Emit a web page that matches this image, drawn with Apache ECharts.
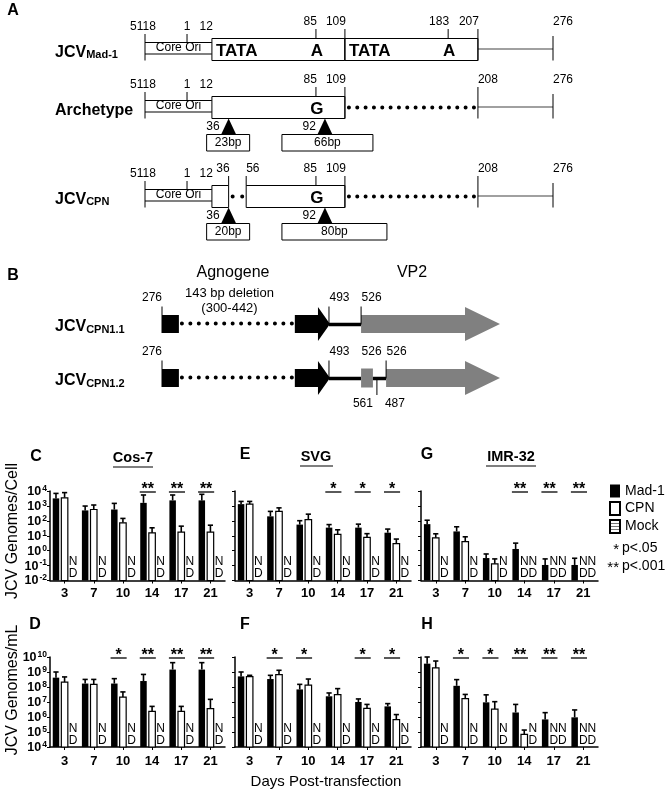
<!DOCTYPE html>
<html>
<head>
<meta charset="utf-8">
<script src="https://cdn.jsdelivr.net/npm/echarts@6.0.0/dist/echarts.min.js"></script>
<style>html,body{margin:0;padding:0;background:#fff;}#chart{width:667px;height:794px;}</style>
</head>
<body>
<div id="chart"></div>
<script>
// ---------- DATA ----------
const days = ['3', '7', '10', '14', '17', '21'];
const cellRange = [0.01, 1e4];
const mlRange = [1e4, 1e10];
const mock = [null, null, null, null, null, null]; // Mock: not detected

// C: Cos-7, genomes/cell
const cosCellMad1 = [3200, 500, 575, 1600, 2350, 2350];
const cosCellMad1Err = [6900, 980, 1480, 5400, 5400, 6000];
const cosCellCPN = [3500, 575, 74, 15.5, 17.4, 17.4];
const cosCellCPNErr = [7800, 1150, 145, 34, 44, 51];
const cosCellSig = ['', '', '', '**', '**', '**'];
// D: Cos-7, genomes/mL
const cosMlMad1 = [4.2e8, 1.7e8, 1.7e8, 2.5e8, 1.45e9, 1.45e9];
const cosMlMad1Err = [1.0e9, 3.2e8, 3.6e8, 6.9e8, 4.2e9, 4.2e9];
const cosMlCPN = [2.1e8, 1.5e8, 2.1e7, 2.4e6, 2.4e6, 3.6e6];
const cosMlCPNErr = [4.7e8, 3.2e8, 4.7e7, 5.1e6, 5.1e6, 1.5e7];
const cosMlSig = ['', '', '*', '**', '**', '**'];
// E: SVG, genomes/cell
const svgCellMad1 = [1320, 200, 56, 35, 35, 16];
const svgCellMad1Err = [2000, 430, 102, 56, 60, 28];
const svgCellCPN = [1320, 430, 120, 12.3, 7.9, 3.0];
const svgCellCPNErr = [2000, 740, 280, 25, 13.8, 6.0];
const svgCellSig = ['', '', '', '*', '*', '*'];
// F: SVG, genomes/mL
const svgMlMad1 = [5.1e8, 3.4e8, 6.9e7, 2.4e7, 1.0e7, 5.1e6];
const svgMlMad1Err = [1.0e9, 6.0e8, 1.5e8, 4.0e7, 1.6e7, 7.8e6];
const svgMlCPN = [4.9e8, 6.6e8, 1.35e8, 3.1e7, 3.8e6, 6.6e5];
const svgMlCPNErr = [6.0e8, 1.3e9, 3.4e8, 7.8e7, 6.9e6, 1.45e6];
const svgMlSig = ['', '*', '*', '', '*', '*'];
// G: IMR-32, genomes/cell
const imrCellMad1 = [60, 19.5, 0.32, 1.3, 0.11, 0.11];
const imrCellMad1Err = [110, 40, 0.6, 3.2, 0.28, 0.31];
const imrCellCPN = [7.2, 4.0, 0.13, null, null, null];
const imrCellCPNErr = [13.5, 8.5, 0.28, null, null, null];
const imrCellSig = ['', '', '', '**', '**', '**'];
// H: IMR-32, genomes/mL
const imrMlMad1 = [3.6e9, 1.2e8, 9.5e6, 2.0e6, 6.9e5, 9.5e5];
const imrMlMad1Err = [1.0e10, 3.1e8, 3.0e7, 6.9e6, 1.95e6, 2.95e6];
const imrMlCPN = [1.86e9, 1.66e7, 3.4e6, 6.9e4, null, null];
const imrMlCPNErr = [5.4e9, 3.2e7, 1.05e7, 1.35e5, null, null];
const imrMlSig = ['', '*', '*', '**', '**', '**'];

// Panel A: regulatory region maps
const aRowNames = [['JCV', 'Mad-1'], ['Archetype', ''], ['JCV', 'CPN']];
const aSites = [
  ['5118', '1', '12', '85', '109', '183', '207', '276'],
  ['5118', '1', '12', '85', '109', '208', '276'],
  ['5118', '1', '12', '36', '56', '85', '109', '208', '276']
];
const aBoxes = [[['12', '109'], ['109', '207']], [['12', '109']], [['12', '36'], ['56', '109']]];
const aBoxText = [[['TATA', '12'], ['A', '85'], ['TATA', '109'], ['A', '183']], [['G', '85']], [['G', '85']]];
const aDotted = [[], [['109', '208']], [['36', '56'], ['109', '208']]];
const aSolid = [[['207', '276']], [['208', '276']], [['208', '276']]];
const aDeletions = [[], [['36', '23bp'], ['92', '66bp']], [['36', '20bp'], ['92', '80bp']]];

// Panel B: agnogene / VP2 maps
const bRowSubs = ['CPN1.1', 'CPN1.2'];
const bParts = [
  [['block', '276', '300'], ['dots', '300', '442'], ['arrow', '442', '493'], ['line', '493', '526'], ['vp2', '526', 'end']],
  [['block', '276', '300'], ['dots', '300', '442'], ['arrow', '442', '493'], ['line', '493', '526'], ['greyblock', '526', '561'], ['line', '561', '526b'], ['vp2', '526b', 'end']]
];
const bSites = [
  [['276', '276', 'up'], ['493', '493', 'up'], ['526', '526', 'up']],
  [['276', '276', 'up'], ['493', '493', 'up'], ['526', '526', 'upText'], ['526', '526b', 'up'], ['561', '561', 'down'], ['487', '561', 'downR']]
];

// ---------- LAYOUT / STYLE ----------
const FONT = '"Liberation Sans", Arial, Helvetica, sans-serif';
const BW = 6.5, GAP = 2.1, STEP = BW + GAP;
// schematic track positions (diagram units 0..100, not to scale)
const aTrack = {'5118': 0, '1': 10.3, '12': 16.4, '36': 20.5, '56': 24.8, '85': 41.9, '92': 44.1, '109': 49.0, '183': 74.3, '207': 81.6, '208': 81.6, '276': 100};
const aRowY = [49.5, 107.5, 196.5];
const siteAlign = {'5118': 'center', '1': 'center', '12': 'right', '36': 'right', '56': 'left', '85': 'right', '109': 'right', '183': 'right', '207': 'right', '208': 'left', '276': 'left'};
const siteTick = {'5118': 'full', '1': 'core', '12': null, '36': 'box', '56': 'box', '85': 'box', '109': 'full', '183': 'box', '207': 'full', '208': 'full', '276': 'full'};
const delBoxOffset = [-22, -43];
const delBoxWidth = [[], [43, 91], [43, 105]];
const bTrack = {'276': 0, '300': 5.0, '442': 39.3, '493': 49.4, '526': 58.9, '561': 62.4, '526b': 66.3, 'end': 100};
const bRowY = [324, 378];

const panels = [
  {mad1: cosCellMad1, mad1Err: cosCellMad1Err, cpn: cosCellCPN, cpnErr: cosCellCPNErr, sig: cosCellSig, range: cellRange, labels: true, lm: 6, grid: {left: 50, top: 491, width: 175, height: 89.5}},
  {mad1: cosMlMad1, mad1Err: cosMlMad1Err, cpn: cosMlCPN, cpnErr: cosMlCPNErr, sig: cosMlSig, range: mlRange, labels: true, lm: 8, grid: {left: 50, top: 657, width: 175, height: 90}},
  {mad1: svgCellMad1, mad1Err: svgCellMad1Err, cpn: svgCellCPN, cpnErr: svgCellCPNErr, sig: svgCellSig, range: cellRange, labels: false, lm: 6, grid: {left: 235, top: 491, width: 176, height: 89.5}},
  {mad1: svgMlMad1, mad1Err: svgMlMad1Err, cpn: svgMlCPN, cpnErr: svgMlCPNErr, sig: svgMlSig, range: mlRange, labels: false, lm: 8, grid: {left: 235, top: 657, width: 176, height: 90}},
  {mad1: imrCellMad1, mad1Err: imrCellMad1Err, cpn: imrCellCPN, cpnErr: imrCellCPNErr, sig: imrCellSig, range: cellRange, labels: false, lm: 6, grid: {left: 421, top: 491, width: 177, height: 89.5}},
  {mad1: imrMlMad1, mad1Err: imrMlMad1Err, cpn: imrMlCPN, cpnErr: imrMlCPNErr, sig: imrMlSig, range: mlRange, labels: false, lm: 8, grid: {left: 421, top: 657, width: 177, height: 90}}
];

function txt(text, x, y, o) {
  return {type: 'text', silent: true, style: Object.assign({text: text, x: x, y: y, fill: '#000', fontSize: 12, fontFamily: FONT, align: 'center', verticalAlign: 'middle'}, o || {})};
}
function ln(x1, y1, x2, y2, o) {
  return {type: 'line', silent: true, shape: {x1: x1, y1: y1, x2: x2, y2: y2}, style: Object.assign({stroke: '#000', lineWidth: 1}, o || {})};
}
function dots(s, e, y, period) {
  const n = Math.max(1, Math.round((e - s) / period));
  const p = (e - s) / n;
  return ln(s, y, e + 0.05, y, {lineWidth: 4, lineCap: 'round', lineDash: [0.01, p - 0.01]});
}
const labelRich = {
  m: {fontSize: 16, fontWeight: 'bold', fontFamily: FONT, lineHeight: 20, verticalAlign: 'bottom', color: '#000'},
  s: {fontSize: 11, fontWeight: 'bold', fontFamily: FONT, lineHeight: 11, verticalAlign: 'bottom', color: '#000'}
};

function renderA(params, api) {
  const r = params.dataIndex;
  const cy = api.coord([0, aRowY[r]])[1];
  const X = nt => api.coord([aTrack[nt], aRowY[r]])[0];
  const ch = [];
  const nm = aRowNames[r];
  ch.push(txt(nm[1] ? '{m|' + nm[0] + '}{s|' + nm[1] + '}' : '{m|' + nm[0] + '}', X('5118') - 90, cy + 1, {align: 'left', rich: labelRich}));
  const x0 = X('5118'), x12 = X('12');
  ch.push(ln(x0, cy - 7, x12, cy - 7));
  ch.push(ln(x0, cy + 4.5, x12, cy + 4.5, {stroke: '#808080', lineWidth: 2}));
  ch.push(txt('Core Ori', (x0 + x12) / 2, cy - 1.5));
  aSolid[r].forEach(([a, b]) => ch.push(ln(X(a), cy - 0.5, X(b), cy - 0.5, {stroke: '#808080', lineWidth: 1.6})));
  aDotted[r].forEach(([a, b]) => ch.push(dots(X(a) + 4, X(b) - 4, cy, 8.2)));
  aBoxes[r].forEach(([a, b]) => ch.push({type: 'rect', silent: true, shape: {x: X(a), y: cy - 11, width: X(b) - X(a), height: 22}, style: {fill: '#fff', stroke: '#000', lineWidth: 1}}));
  aBoxText[r].forEach(([t, nt]) => ch.push(txt(t, t === 'TATA' ? X(nt) + 4 : X(nt) + 1, cy + 1.5, {align: t === 'TATA' ? 'left' : 'center', fontSize: 17, fontWeight: 'bold'})));
  aSites[r].forEach(nt => {
    const x = X(nt);
    const low = (nt === '5118' || nt === '1' || nt === '12');
    const ly = cy + (low ? -22.5 : -27.5);
    const al = siteAlign[nt];
    const lx = nt === '5118' ? x - 2 : (al === 'right' ? x + 1 : x);
    ch.push(txt(nt, lx, ly, {align: al}));
    const tb = siteTick[nt];
    if (tb) {
      const top = nt === '276' ? cy - 13.5 : ly + 7;
      const bot = tb === 'full' ? cy + 11 : (tb === 'box' ? cy - 11 : cy - 7);
      ch.push(ln(x, top, x, bot));
    }
  });
  aDeletions[r].forEach(([nt, lab], k) => {
    const x = X(nt);
    ch.push({type: 'polygon', silent: true, shape: {points: [[x, cy + 11], [x - 7.5, cy + 27], [x + 7.5, cy + 27]]}, style: {fill: '#000'}});
    ch.push(txt(nt, x - 9, cy + 19.5, {align: 'right'}));
    const bx = x + delBoxOffset[k], bw = delBoxWidth[r][k];
    ch.push({type: 'rect', silent: true, shape: {x: bx, y: cy + 27, width: bw, height: 16.5}, style: {fill: '#fff', stroke: '#000', lineWidth: 1}});
    ch.push(txt(lab, bx + bw / 2, cy + 35.5));
  });
  return {type: 'group', children: ch};
}

function arrowPts(x0, xt, cy, head, hh, bh) {
  return [[x0, cy - bh], [xt - head, cy - bh], [xt - head, cy - hh], [xt, cy], [xt - head, cy + hh], [xt - head, cy + bh], [x0, cy + bh]];
}
function renderB(params, api) {
  const r = params.dataIndex;
  const cy = api.coord([0, bRowY[r]])[1];
  const X = k => api.coord([bTrack[k], bRowY[r]])[0];
  const ch = [];
  ch.push(txt('{m|JCV}{s|' + bRowSubs[r] + '}', X('276') - 107, cy + 1, {align: 'left', rich: labelRich}));
  bParts[r].forEach(([kind, a, b]) => {
    const xa = X(a), xb = X(b);
    if (kind === 'block') ch.push({type: 'rect', silent: true, shape: {x: xa, y: cy - 9, width: xb - xa, height: 18}, style: {fill: '#000'}});
    else if (kind === 'dots') ch.push(dots(xa + 3, xb - 3, cy - 0.5, 8.4));
    else if (kind === 'arrow') ch.push({type: 'polygon', silent: true, shape: {points: arrowPts(xa, xb + 1, cy, 12, 17, 9)}, style: {fill: '#000'}});
    else if (kind === 'line') ch.push(ln(xa, cy + 0.5, xb, cy + 0.5, {lineWidth: 3.5}));
    else if (kind === 'greyblock') ch.push({type: 'rect', silent: true, shape: {x: xa, y: cy - 9.5, width: xb - xa, height: 19}, style: {fill: '#808080'}});
    else if (kind === 'vp2') ch.push({type: 'polygon', silent: true, shape: {points: arrowPts(xa, xb, cy, 35, 17, 9)}, style: {fill: '#808080'}});
  });
  bSites[r].forEach(([lab, key, where]) => {
    const x = X(key);
    if (where === 'up' || where === 'upText') {
      ch.push(txt(lab, key === '276' ? x : x + 0.5, cy - 26, {align: key === '276' ? 'right' : 'left'}));
      if (where === 'up') ch.push(ln(x, cy - 17.5, x, key === '276' ? cy + 9 : cy + 0.5));
    } else if (where === 'down') {
      ch.push(ln(x + 4, cy + 2, x + 4, cy + 17));
      ch.push(txt(lab, x, cy + 26, {align: 'right'}));
    } else {
      ch.push(txt(lab, x + 12, cy + 26, {align: 'left'}));
    }
  });
  return {type: 'group', children: ch};
}

function slotRender(P, slot, vals, errs) {
  return function (params, api) {
    const i = params.dataIndex;
    const cs = params.coordSys;
    const base = cs.y + cs.height;
    const cx = api.coord([i, P.range[0]])[0] + (slot - 1) * STEP;
    const v = vals[i];
    if (v == null) {
      return txt('N\nD', cx, base - 0.5, {verticalAlign: 'bottom', fontSize: 12, lineHeight: 12});
    }
    const yv = api.coord([i, v])[1];
    const ye = api.coord([i, errs[i]])[1];
    return {type: 'group', children: [
      ln(cx, yv, cx, ye, {lineWidth: 1.6}),
      ln(cx - 2.6, ye, cx + 2.6, ye, {lineWidth: 1.6}),
      {type: 'rect', shape: {x: cx - BW / 2, y: yv, width: BW, height: base - yv}, style: slot === 0 ? {fill: '#000'} : {fill: '#fff', stroke: '#000', lineWidth: 1.2}}
    ]};
  };
}
function sigRender(P) {
  return function (params, api) {
    const s = P.sig[params.dataIndex];
    if (!s) return null;
    const c = api.coord([params.dataIndex, P.range[1]]);
    const x1 = c[0] - STEP - BW / 2 - 0.5, x2 = c[0] + BW / 2 + 0.5;
    const y = c[1] + 1;
    return {type: 'group', children: [
      ln(x1, y, x2, y, {lineWidth: 1.3}),
      txt(s, (x1 + x2) / 2, y - 2, {fontSize: 16, fontWeight: 'bold'})
    ]};
  };
}

const seriesStyles = [
  {name: 'Mad-1', itemStyle: {color: '#000'}},
  {name: 'CPN', itemStyle: {color: '#fff', borderColor: '#000', borderWidth: 1.2}},
  {name: 'Mock', itemStyle: {color: '#fff', borderColor: '#000', borderWidth: 1, decal: {symbol: 'rect', symbolSize: 1, dashArrayX: [[1, 0]], dashArrayY: [1, 1.6], rotation: 0, color: '#777', backgroundColor: '#fff'}}}
];

const series = [];
panels.forEach((P, pi) => {
  const sets = [[P.mad1, P.mad1Err], [P.cpn, P.cpnErr], [mock, mock]];
  sets.forEach(([vals, errs], slot) => {
    series.push({
      type: 'custom', name: seriesStyles[slot].name, itemStyle: seriesStyles[slot].itemStyle,
      xAxisIndex: pi, yAxisIndex: pi, silent: true, z: 3,
      data: vals.map((v, i) => [i, v == null ? P.range[0] : v]),
      renderItem: slotRender(P, slot, vals, errs)
    });
  });
  series.push({type: 'custom', xAxisIndex: pi, yAxisIndex: pi, silent: true, z: 4,
    data: P.sig.map((s, i) => [i, P.range[1]]), renderItem: sigRender(P)});
});
series.push({type: 'custom', xAxisIndex: 6, yAxisIndex: 6, silent: true, data: aRowY.map(y => [0, y]), renderItem: renderA});
series.push({type: 'custom', xAxisIndex: 7, yAxisIndex: 7, silent: true, data: bRowY.map(y => [0, y]), renderItem: renderB});

const xAxes = panels.map((P, i) => ({
  type: 'category', gridIndex: i, data: days,
  axisLine: {lineStyle: {color: '#000', width: 1.5}},
  axisTick: {show: true, alignWithLabel: true, length: 3, lineStyle: {color: '#000', width: 1}},
  axisLabel: {interval: 0, margin: P.lm, color: '#000', fontSize: 13, fontWeight: 'bold', fontFamily: FONT},
  splitLine: {show: false}
}));
xAxes.push({type: 'value', gridIndex: 6, min: 0, max: 100, show: false});
xAxes.push({type: 'value', gridIndex: 7, min: 0, max: 100, show: false});

const yAxes = panels.map((P, i) => ({
  type: 'log', logBase: 10, gridIndex: i, min: P.range[0], max: P.range[1], splitNumber: 6,
  axisLine: {show: true, lineStyle: {color: '#000', width: 1.5}},
  axisTick: {show: true, length: 3, lineStyle: {color: '#000', width: 1}},
  splitLine: {show: false}, minorTick: {show: false},
  axisLabel: {
    show: P.labels, margin: 3, hideOverlap: false, showMinLabel: true, showMaxLabel: true,
    formatter: v => '{b|10}{s|' + Math.round(Math.log10(v)) + '}',
    rich: {
      b: {fontSize: 12.5, fontWeight: 'bold', fontFamily: FONT, color: '#000', lineHeight: 14, verticalAlign: 'bottom'},
      s: {fontSize: 8.5, fontWeight: 'bold', fontFamily: FONT, color: '#000', lineHeight: 8, verticalAlign: 'top', padding: [0, 0, 0, 1]}
    }
  }
}));
yAxes.push({type: 'value', gridIndex: 6, min: 0, max: 450, inverse: true, show: false});
yAxes.push({type: 'value', gridIndex: 7, min: 0, max: 450, inverse: true, show: false});

function gtext(text, x, y, o) {
  return {type: 'text', x: x, y: y, silent: true, style: Object.assign({text: text, fill: '#000', fontSize: 12, fontFamily: FONT, align: 'center', verticalAlign: 'middle'}, o || {})};
}
function gline(x1, y1, x2, y2, w) {
  return {type: 'line', silent: true, shape: {x1: x1, y1: y1, x2: x2, y2: y2}, style: {stroke: '#000', lineWidth: w || 1.2}};
}
const bold16 = {fontSize: 16, fontWeight: 'bold'};
const graphic = [
  gtext('A', 13, 11, bold16), gtext('B', 13, 276, bold16),
  gtext('C', 36, 457, bold16), gtext('D', 35, 625, bold16),
  gtext('E', 245, 455, bold16), gtext('F', 245, 625, bold16),
  gtext('G', 427, 455, bold16), gtext('H', 427, 625, bold16),
  gtext('Cos-7', 133, 458, {fontSize: 14.5, fontWeight: 'bold'}), gline(113, 467, 153, 467),
  gtext('SVG', 316, 457, {fontSize: 14.5, fontWeight: 'bold'}), gline(300, 466, 333, 466),
  gtext('IMR-32', 511, 457, {fontSize: 14.5, fontWeight: 'bold'}), gline(486, 466, 536, 466),
  gtext('Agnogene', 233, 273, {fontSize: 16}), gtext('VP2', 412, 273, {fontSize: 16}),
  gtext('143 bp deletion', 229.5, 293, {fontSize: 13}), gtext('(300-442)', 229.5, 308, {fontSize: 13}),
  {type: 'text', x: 12.5, y: 531, rotation: Math.PI / 2, silent: true, style: {text: 'JCV Genomes/Cell', fill: '#000', fontSize: 16, fontFamily: FONT, align: 'center', verticalAlign: 'middle'}},
  {type: 'text', x: 12.5, y: 690, rotation: Math.PI / 2, silent: true, style: {text: 'JCV Genomes/mL', fill: '#000', fontSize: 16, fontFamily: FONT, align: 'center', verticalAlign: 'middle'}},
  gtext('Days Post-transfection', 326, 782, {fontSize: 15}),
  gtext('*', 619, 550, {fontSize: 15, align: 'right'}), gtext('p<.05', 622, 548, {fontSize: 14, align: 'left'}),
  gtext('**', 619, 568, {fontSize: 15, align: 'right'}), gtext('p<.001', 622, 566, {fontSize: 14, align: 'left'})
];

const chart = echarts.init(document.getElementById('chart'), null, {renderer: 'canvas'});
chart.setOption({
  animation: false,
  backgroundColor: '#fff',
  grid: panels.map(P => P.grid).concat([{left: 145, width: 408, top: 0, height: 450}, {left: 162, width: 338, top: 0, height: 450}]),
  xAxis: xAxes,
  yAxis: yAxes,
  legend: {
    orient: 'vertical', left: 609, top: 484, itemWidth: 10, itemHeight: 13, itemGap: 3,
    icon: 'rect', selectedMode: false, padding: 0,
    data: ['Mad-1', 'CPN', 'Mock'],
    textStyle: {fontSize: 14, color: '#000', fontFamily: FONT}
  },
  graphic: graphic,
  series: series
});
</script>
</body>
</html>
